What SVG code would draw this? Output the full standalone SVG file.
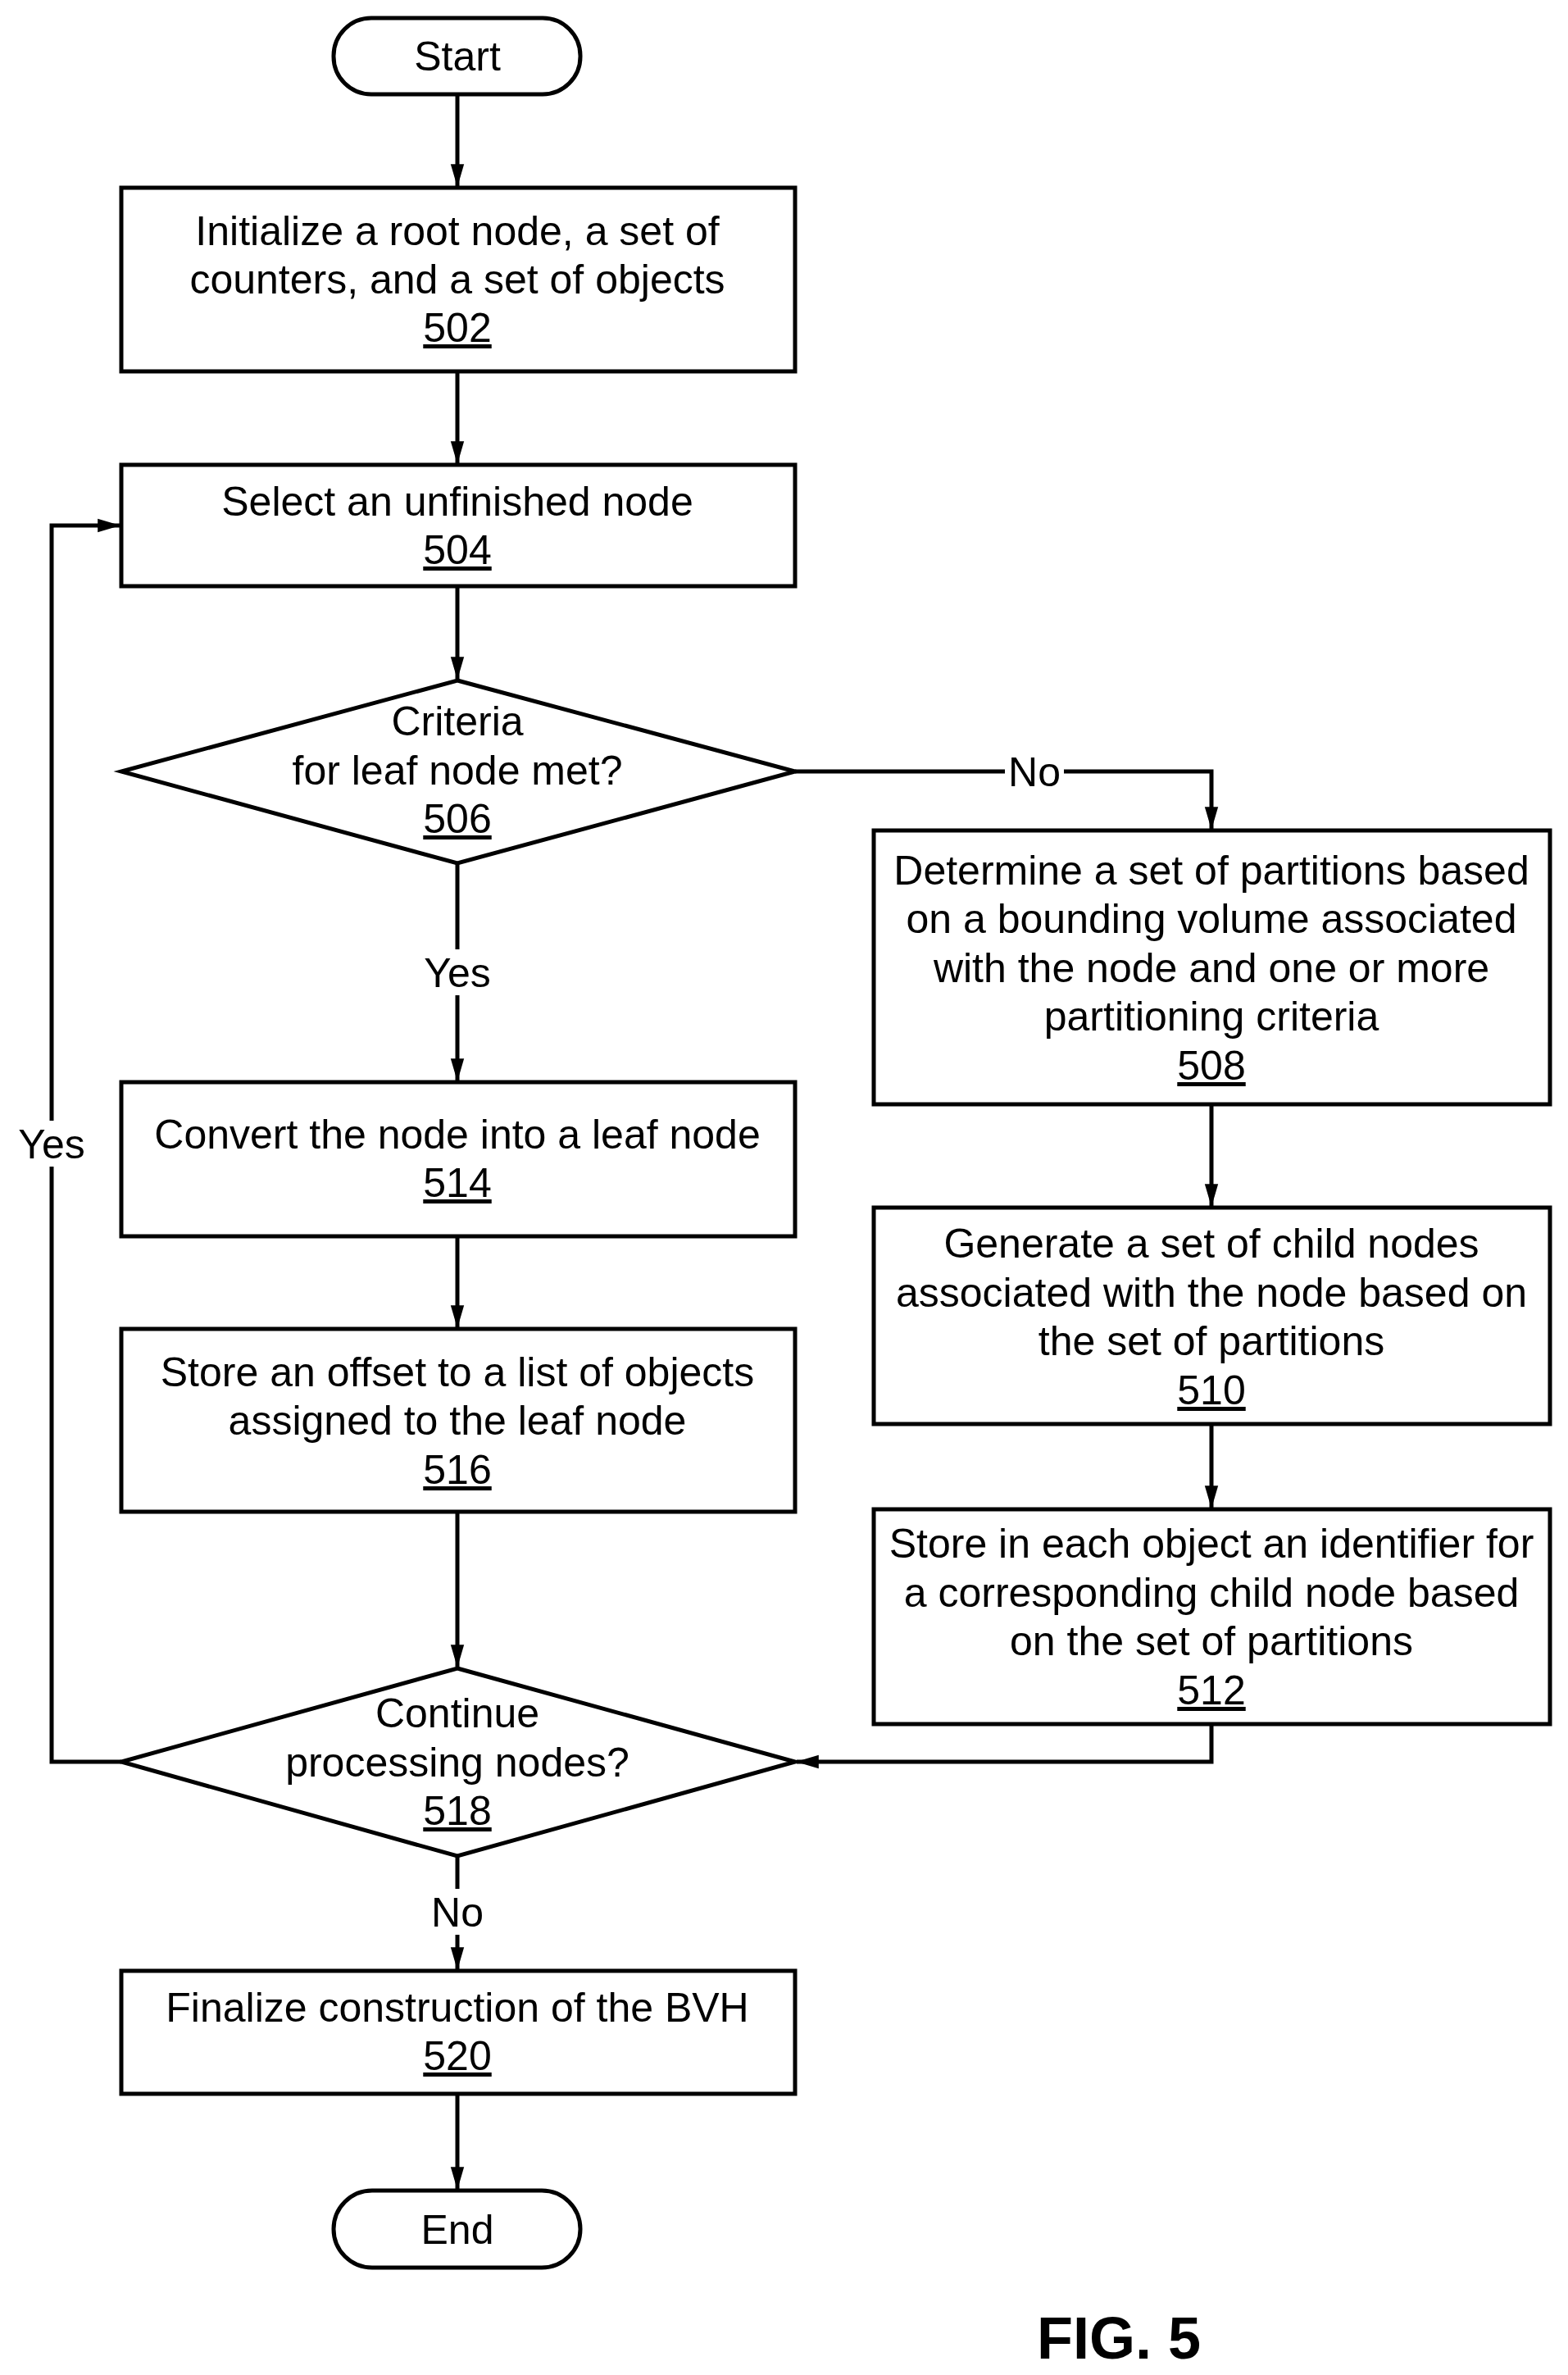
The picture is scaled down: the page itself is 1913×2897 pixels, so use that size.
<svg xmlns="http://www.w3.org/2000/svg" width="1913" height="2897" viewBox="0 0 1913 2897">
<defs>
<style>
.s{fill:#fff;stroke:#000;stroke-width:5}
.t{font-family:"Liberation Sans",Arial,sans-serif;font-size:50px;text-anchor:middle;fill:#000}
.u{text-decoration:underline}
.c{fill:none;stroke:#000;stroke-width:5}
.lb{fill:#fff}
</style>
<marker id="a" markerUnits="userSpaceOnUse" markerWidth="28" markerHeight="48" refX="46" refY="14" viewBox="0 0 48 28" orient="auto"><path d="M0,0L48,14L0,28Z" fill="#000"/></marker>
</defs>
<rect width="1913" height="2897" fill="#fff"/>
<g id="connectors">
<path class="c" d="M558,115V227" marker-end="url(#a)"/>
<path class="c" d="M558,453V565" marker-end="url(#a)"/>
<path class="c" d="M558,715V828" marker-end="url(#a)"/>
<path class="c" d="M970,941H1478V1011" marker-end="url(#a)"/>
<path class="c" d="M558,1053V1318" marker-end="url(#a)"/>
<path class="c" d="M1478,1347V1471" marker-end="url(#a)"/>
<path class="c" d="M1478,1737V1839" marker-end="url(#a)"/>
<path class="c" d="M558,1508V1619" marker-end="url(#a)"/>
<path class="c" d="M558,1844V2033" marker-end="url(#a)"/>
<path class="c" d="M1478,2103V2149H972" marker-end="url(#a)"/>
<path class="c" d="M148,2149H63V641H146" marker-end="url(#a)"/>
<path class="c" d="M558,2264V2402" marker-end="url(#a)"/>
<path class="c" d="M558,2554V2670" marker-end="url(#a)"/>
<rect class="lb" x="1226" y="913" width="72" height="56"/><text class="t" x="1262" y="959">No</text>
<rect class="lb" x="510" y="1158" width="96" height="56"/><text class="t" x="558" y="1204">Yes</text>
<rect class="lb" x="15" y="1367" width="96" height="56"/><text class="t" x="63" y="1413">Yes</text>
<rect class="lb" x="522" y="2304" width="72" height="56"/><text class="t" x="558" y="2350">No</text>
</g>
<g id="start"><rect class="s" x="407" y="22" width="301" height="93" rx="46"/><text class="t" x="558" y="86">Start</text></g>
<g id="n502"><rect class="s" x="148" y="229" width="822" height="224"/><text class="t" x="558" y="299">Initialize a root node, a set of</text><text class="t" x="558" y="358">counters, and a set of objects</text><text class="t u" x="558" y="417">502</text></g>
<g id="n504"><rect class="s" x="148" y="567" width="822" height="148"/><text class="t" x="558" y="629">Select an unfinished node</text><text class="t u" x="558" y="688">504</text></g>
<g id="n506"><path class="s" d="M558,830L970,941L558,1053L148,941Z"/><text class="t" x="558" y="897">Criteria</text><text class="t" x="558" y="957">for leaf node met?</text><text class="t u" x="558" y="1016">506</text></g>
<g id="n508"><rect class="s" x="1066" y="1013" width="825" height="334"/><text class="t" x="1478" y="1079">Determine a set of partitions based</text><text class="t" x="1478" y="1138">on a bounding volume associated</text><text class="t" x="1478" y="1198">with the node and one or more</text><text class="t" x="1478" y="1257">partitioning criteria</text><text class="t u" x="1478" y="1317">508</text></g>
<g id="n510"><rect class="s" x="1066" y="1473" width="825" height="264"/><text class="t" x="1478" y="1534">Generate a set of child nodes</text><text class="t" x="1478" y="1594">associated with the node based on</text><text class="t" x="1478" y="1653">the set of partitions</text><text class="t u" x="1478" y="1713">510</text></g>
<g id="n512"><rect class="s" x="1066" y="1841" width="825" height="262"/><text class="t" x="1478" y="1900">Store in each object an identifier for</text><text class="t" x="1478" y="1960">a corresponding child node based</text><text class="t" x="1478" y="2019">on the set of partitions</text><text class="t u" x="1478" y="2079">512</text></g>
<g id="n514"><rect class="s" x="148" y="1320" width="822" height="188"/><text class="t" x="558" y="1401">Convert the node into a leaf node</text><text class="t u" x="558" y="1460">514</text></g>
<g id="n516"><rect class="s" x="148" y="1621" width="822" height="223"/><text class="t" x="558" y="1691">Store an offset to a list of objects</text><text class="t" x="558" y="1750">assigned to the leaf node</text><text class="t u" x="558" y="1810">516</text></g>
<g id="n518"><path class="s" d="M558,2035L970,2149L558,2264L148,2149Z"/><text class="t" x="558" y="2107">Continue</text><text class="t" x="558" y="2167">processing nodes?</text><text class="t u" x="558" y="2226">518</text></g>
<g id="n520"><rect class="s" x="148" y="2404" width="822" height="150"/><text class="t" x="558" y="2466">Finalize construction of the BVH</text><text class="t u" x="558" y="2525">520</text></g>
<g id="end"><rect class="s" x="407" y="2672" width="301" height="94" rx="47"/><text class="t" x="558" y="2737">End</text></g>
<text x="1365" y="2877" style="font-family:'Liberation Sans',Arial,sans-serif;font-size:72px;font-weight:bold;text-anchor:middle">FIG. 5</text>
</svg>
